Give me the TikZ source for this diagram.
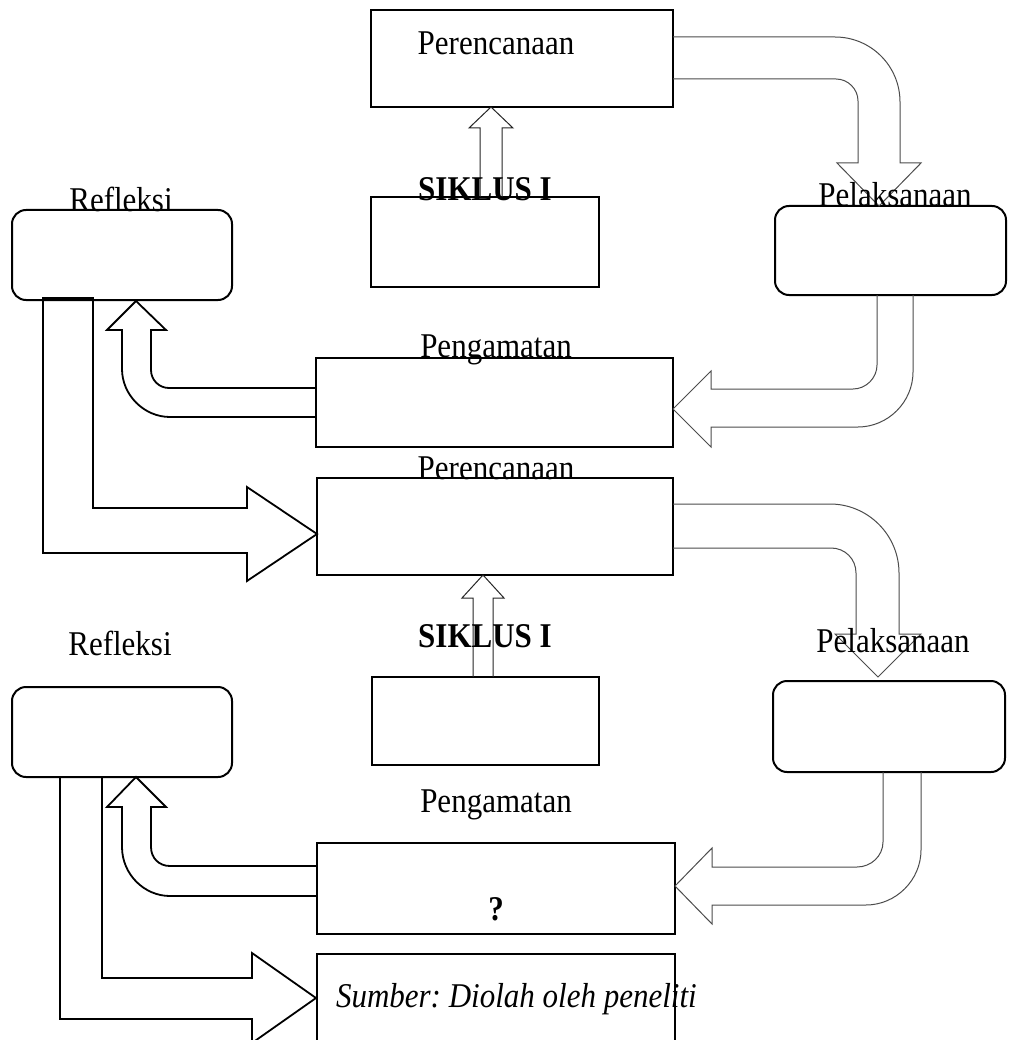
\documentclass[tikz,border=0pt]{standalone}
\usepackage{fontspec}
\setmainfont{Liberation Serif}
\newcommand{\tallt}[1]{\scalebox{1}[1.12]{#1}}
\begin{document}
\frenchspacing
\begin{tikzpicture}[x=1pt,y=-1pt,
  box/.style={draw=black, line width=2pt, inner sep=0pt, outer sep=0pt, anchor=north west},
  rbox/.style={box, rounded corners=14pt},
  lbl/.style={font=\fontsize{31}{36}\selectfont, anchor=base, inner sep=0pt, outer sep=0pt},
  thinarrow/.style={draw=black!70, line width=1pt, line join=miter},
  thickarrow/.style={draw=black, line width=1.8pt, line join=miter},
  uparrow/.style={draw=black!85, line width=1pt, line join=miter},
]
\useasboundingbox (0,0) rectangle (1008,1040);
\fill[white] (0,0) rectangle (1008,1040);

% ---------- boxes, first cycle ----------
\node[box, minimum width=302pt, minimum height=97pt] (P1) at (371,10) {};
\node[box, minimum width=228pt, minimum height=90pt] (S1) at (371,197) {};
\node[rbox, minimum width=220pt, minimum height=90pt] (R1) at (12,210) {};
\node[rbox, minimum width=231pt, minimum height=89pt] (L1) at (775,206) {};
\node[box, minimum width=357pt, minimum height=89pt] (G1) at (316,358) {};

% ---------- boxes, second cycle ----------
\node[box, minimum width=356pt, minimum height=97pt] (P2) at (317,478) {};
\node[box, minimum width=227pt, minimum height=88pt] (S2) at (372,677) {};
\node[rbox, minimum width=220pt, minimum height=90pt] (R2) at (12,687) {};
\node[rbox, minimum width=232pt, minimum height=91pt] (L2) at (773,681) {};
\node[box, minimum width=358pt, minimum height=91pt] (G2) at (317,843) {};
\node[box, minimum width=358pt, minimum height=120pt] (Q) at (317,954) {};

% ---------- block arrows, first cycle ----------
% Perencanaan -> Pelaksanaan
\draw[thinarrow] (673,37) -- (835,37) .. controls (871,37) and (900,66) .. (900,102)
  -- (900,163) -- (921,163) -- (879,206) -- (837,163) -- (858,163) -- (858,101)
  .. controls (858,89) and (848,79) .. (836,79) -- (673,79);
% Siklus -> Perencanaan
\draw[uparrow] (480,197) -- (480,128) -- (469,128) -- (491,107) -- (513,128) -- (502,128) -- (502,197);
% Pelaksanaan -> Pengamatan
\draw[thinarrow] (877,295) -- (877,365) .. controls (877,378) and (866,389) .. (853,389)
  -- (711,389) -- (711,371) -- (673,409) -- (711,447) -- (711,427) -- (858,427)
  .. controls (888,427) and (913,402) .. (913,372) -- (913,295);
% Pengamatan -> Refleksi
\draw[thickarrow] (316,388) -- (169,388) .. controls (159,388) and (151,380) .. (151,370)
  -- (151,330) -- (166,330) -- (136,301) -- (107,330) -- (122,330) -- (122,369)
  .. controls (122,395) and (144,417) .. (170,417) -- (316,417);
% Refleksi -> Perencanaan (cycle 2)
\draw[thickarrow] (43,298) -- (93,298) -- (93,508) -- (247,508) -- (247,487) -- (317,534)
  -- (247,581) -- (247,553) -- (43,553) -- cycle;

% ---------- block arrows, second cycle ----------
% Perencanaan -> Pelaksanaan
\draw[thinarrow] (673,504) -- (830,504) .. controls (868,504) and (899,535) .. (899,573)
  -- (899,634) -- (921,634) -- (878,677) -- (835,634) -- (856,634) -- (856,573)
  .. controls (856,559) and (845,548) .. (831,548) -- (673,548);
% Siklus -> Perencanaan
\draw[uparrow] (473,677) -- (473,598) -- (462,598) -- (483,575) -- (504,598) -- (493,598) -- (493,677);
% Pelaksanaan -> Pengamatan
\draw[thinarrow] (883,772) -- (883,842) .. controls (883,856) and (871,867) .. (857,867)
  -- (712,867) -- (712,848) -- (675,886) -- (712,924) -- (712,905) -- (866,905)
  .. controls (896,905) and (921,880) .. (921,850) -- (921,772);
% Pengamatan -> Refleksi
\draw[thickarrow] (317,866) -- (170,866) .. controls (159,866) and (151,858) .. (151,847)
  -- (151,807) -- (166,807) -- (136,777) -- (107,807) -- (122,807) -- (122,847)
  .. controls (122,874) and (144,896) .. (170,896) -- (317,896);
% Refleksi -> next box
\draw[thickarrow] (60,777) -- (102,777) -- (102,978) -- (252,978) -- (252,953) -- (316,998)
  -- (252,1043) -- (252,1019) -- (60,1019) -- cycle;

% ---------- labels ----------
\node[lbl] (tP1) at (496,55) {\tallt{Perencanaan}};
\node[lbl] (tS1) at (485,201) {\tallt{\bfseries SIKLUS I}};
\node[lbl] (tR1) at (121,212) {\tallt{Refleksi}};
\node[lbl] (tL1) at (895,207) {\tallt{Pelaksanaan}};
\node[lbl] (tG1) at (496,357) {\tallt{Pengamatan}};
\node[lbl] (tP2) at (496,479) {\tallt{Perencanaan}};
\node[lbl] (tS2) at (485,647) {\tallt{\bfseries SIKLUS I}};
\node[lbl] (tR2) at (120,655) {\tallt{Refleksi}};
\node[lbl] (tL2) at (893,652) {\tallt{Pelaksanaan}};
\node[lbl] (tG2) at (496,812) {\tallt{Pengamatan}};
\node[lbl] (tQ) at (496,920) {\tallt{\bfseries ?}};
\node[lbl, anchor=base west] (tSrc) at (336,1007) {\tallt{\itshape Sumber: Diolah oleh peneliti}};
\end{tikzpicture}
\end{document}
